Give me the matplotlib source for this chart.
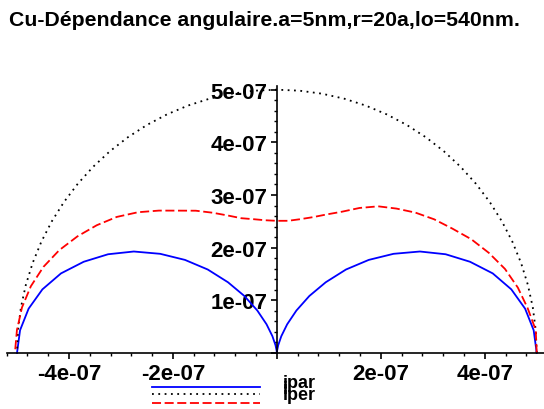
import numpy as np
import matplotlib
matplotlib.use("Agg")
import matplotlib.pyplot as plt
from matplotlib.lines import Line2D
from matplotlib.ticker import MultipleLocator, FuncFormatter

# angles (degrees) and radii (x 1e-7) of the polar curves
angles = [0, 5, 10, 15, 20, 25, 30, 35, 40, 45, 50, 55, 60, 65, 70, 75, 80, 85, 90,
          95, 100, 105, 110, 115, 120, 125, 130, 135, 140, 145, 150, 155, 160, 165,
          170, 175, 180]
ipar = [5.0, 4.96, 4.85, 4.67, 4.42, 4.10, 3.75, 3.36, 2.93, 2.50, 2.07, 1.64, 1.25,
        0.89, 0.58, 0.33, 0.15, 0.04, 0.0,
        0.04, 0.15, 0.33, 0.58, 0.89, 1.25, 1.64, 2.07, 2.50, 2.93, 3.36, 3.75, 4.10,
        4.42, 4.67, 4.85, 4.96, 5.0]
itot = [5.0] * 37
iper = [5.0, 5.0, 4.90, 4.80, 4.67, 4.50, 4.32, 4.12, 3.95, 3.77, 3.58, 3.40, 3.18,
        2.96, 2.80, 2.67, 2.58, 2.52, 2.51,
        2.53, 2.58, 2.65, 2.78, 2.94, 3.12, 3.30, 3.53, 3.78, 4.02, 4.23, 4.43, 4.62,
        4.78, 4.90, 4.98, 5.02, 5.04]

series = [("ipar", ipar, "#0000ff", "-"),
          ("i", itot, "black", (0, (1, 2.5))),
          ("iper", iper, "#ff0000", (0, (5, 2)))]

W, H = 544, 410
fnt = ["Liberation Sans", "DejaVu Sans"]

fig = plt.figure(figsize=(W / 100, H / 100), dpi=100)
ax = fig.add_axes([6.6 / W, (H - 354) / H, (W - 6.6) / W, (354 - 87) / H])

th = np.radians(angles)
for name, r, col, ls in series:
    r = np.array(r) * 1e-7
    ax.plot(r * np.cos(th), r * np.sin(th), color=col, linestyle=ls, lw=1.3,
            clip_on=False)

ax.set_xlim(-5.2e-7, 5.14e-7)
ax.set_ylim(0, 5.07e-7)

for s in ["top", "right"]:
    ax.spines[s].set_visible(False)
ax.spines["left"].set_position(("data", 0))
ax.spines["bottom"].set_position(("data", 0))
for s in ["left", "bottom"]:
    ax.spines[s].set_linewidth(1.2)

fmt = FuncFormatter(lambda v, p: "" if abs(v) < 1e-12 else f"{v:.0e}")
ax.xaxis.set_major_locator(MultipleLocator(2e-7))
ax.xaxis.set_minor_locator(MultipleLocator(0.4e-7))
ax.yaxis.set_major_locator(MultipleLocator(1e-7))
ax.yaxis.set_minor_locator(MultipleLocator(0.2e-7))
ax.xaxis.set_major_formatter(fmt)
ax.yaxis.set_major_formatter(fmt)
ax.tick_params(which="major", direction="out", length=4, width=1.2, pad=3)
ax.tick_params(which="minor", direction="out", length=2.5, width=1)
for lab in ax.get_xticklabels() + ax.get_yticklabels():
    lab.set_family(fnt)
    lab.set_fontweight("bold")
    lab.set_fontsize(16)
ax.patch.set_alpha(0)

fig.text(264 / W, 1 - 20 / H, "Cu-Dépendance angulaire.a=5nm,r=20a,lo=540nm.",
         ha="center", va="center", family=fnt, fontweight="bold", fontsize=15.3)

# legend keys drawn under the plot
key_y = [388, 395, 404]
lab_y = [384, 390, 396]
for (name, r, col, ls), yk, yl in zip(series, key_y, lab_y):
    fig.add_artist(Line2D([152 / W, 260 / W], [1 - yk / H, 1 - yk / H],
                          transform=fig.transFigure, color=col, linestyle=ls, lw=1.3))
    fig.text(283 / W, 1 - yl / H, name, ha="left", va="center", family=fnt,
             fontweight="bold", fontsize=13)

fig.savefig("out.png", dpi=100)
